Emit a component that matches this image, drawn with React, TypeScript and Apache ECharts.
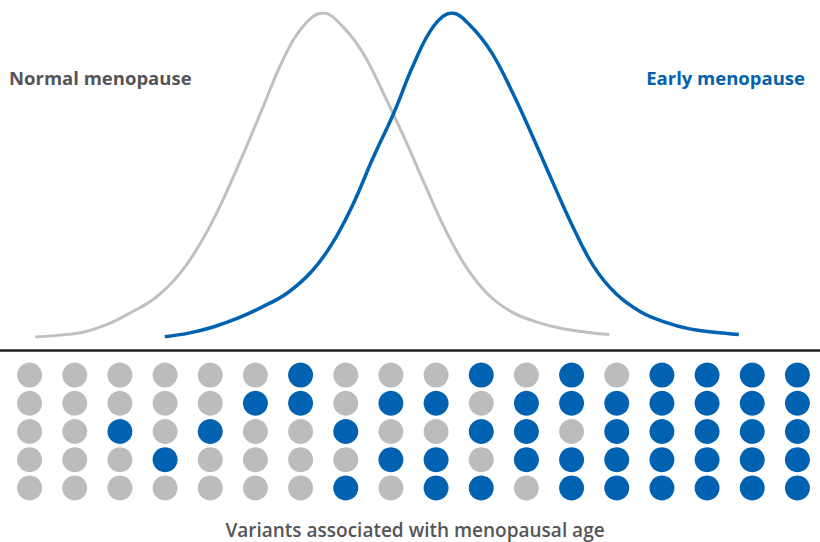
import React, { useEffect, useRef } from "react";
import * as echarts from "echarts";

// Curve values: x = score (0-100 across the chart width), y = relative density (peak = 100)
const normalX = [4.3, 7, 10, 13, 16, 19, 22, 24.6, 27, 29.5, 32, 34.5, 37, 39.4, 41.8, 44.3, 46.8, 49.3, 51.8, 54.3, 56.8, 59.5, 62.5, 65.5, 68.5, 71.5, 74.3];
const normalY = [0, 0.5, 1.4, 3.8, 7.6, 12.2, 19.8, 29.6, 41.3, 55.5, 70.5, 85.5, 96.0, 100, 95.8, 87.5, 75.0, 61.5, 47.1, 33.2, 21.8, 13.2, 7.6, 4.6, 2.6, 1.5, 0.8];

const earlyX = [20.1, 23, 26, 29, 32, 35, 38, 40.5, 43, 45.5, 48, 50.5, 52.9, 55.1, 57.4, 59.9, 62.4, 64.9, 67.4, 69.9, 72.4, 75.1, 78.1, 81.1, 84.1, 87.1, 90.1];
const earlyY = [0.1, 1.2, 3.1, 5.8, 9.3, 13.5, 20.2, 28.8, 40.7, 55.3, 69.0, 84.5, 96.0, 100, 96.0, 88.0, 76.0, 62.2, 47.8, 33.8, 21.8, 13.4, 7.8, 4.6, 2.5, 1.5, 0.8];

// Dot matrix: one string per column, rows top -> bottom, 1 = early-menopause variant
const variantColumns = [
  "00000", "00000", "00100", "00010", "00100", "01000", "11000", "00101", "01010",
  "01011", "10101", "01110", "11011", "01111", "11111", "11111", "11111", "11111",
];
const columnLabels = variantColumns.map((_, i) => `V${i + 1}`);
const rowLabels = ["R1", "R2", "R3", "R4", "R5"];

const labelNormal = "Normal menopause";
const labelEarly = "Early menopause";
const labelBottom = "Variants associated with menopausal age";

const BLUE = "#0062b1";
const GREY_LINE = "#c0c0c2";
const GREY_DOT = "#bbbcbe";
const FONT = "'Open Sans', 'Noto Sans', sans-serif";

export default function App() {
  const ref = useRef<HTMLDivElement>(null);

  useEffect(() => {
    if (!ref.current) return;
    const chart = echarts.init(ref.current, null, { renderer: "svg" });

    const greyDots: any[] = [];
    const blueDots: any[] = [];
    variantColumns.forEach((col, ci) => {
      col.split("").forEach((v, ri) => {
        const item = [columnLabels[ci], rowLabels[ri]];
        if (v === "1") blueDots.push(item);
        else greyDots.push(item);
      });
    });

    chart.setOption({
      animation: false,
      backgroundColor: "#ffffff",
      grid: [
        { left: 0, right: 0, top: 13, bottom: 205 },
        { left: 7, width: 814, top: 361, height: 141 },
      ],
      xAxis: [
        { type: "value", gridIndex: 0, min: 0, max: 100, show: false },
        { type: "category", gridIndex: 1, data: columnLabels, show: false, boundaryGap: true },
      ],
      yAxis: [
        { type: "value", gridIndex: 0, min: 0, max: 100, show: false },
        { type: "category", gridIndex: 1, data: rowLabels, inverse: true, show: false, boundaryGap: true },
      ],
      series: [
        {
          type: "line",
          xAxisIndex: 0,
          yAxisIndex: 0,
          data: normalX.map((x, i) => [x, normalY[i]]),
          smooth: 0.4,
          symbol: "none",
          lineStyle: { color: GREY_LINE, width: 3 },
        },
        {
          type: "line",
          xAxisIndex: 0,
          yAxisIndex: 0,
          data: earlyX.map((x, i) => [x, earlyY[i]]),
          smooth: 0.4,
          symbol: "none",
          lineStyle: { color: BLUE, width: 3.5 },
        },
        {
          type: "scatter",
          xAxisIndex: 1,
          yAxisIndex: 1,
          data: greyDots,
          symbol: "circle",
          symbolSize: 25,
          itemStyle: { color: GREY_DOT, opacity: 1 },
        },
        {
          type: "scatter",
          xAxisIndex: 1,
          yAxisIndex: 1,
          data: blueDots,
          symbol: "circle",
          symbolSize: 25,
          itemStyle: { color: BLUE, opacity: 1 },
        },
      ],
      graphic: [
        {
          type: "line",
          shape: { x1: 0, y1: 350.5, x2: 820, y2: 350.5 },
          style: { stroke: "#231f20", lineWidth: 2.5 },
        },
        {
          type: "text",
          x: 9,
          y: 77,
          style: {
            text: labelNormal,
            fill: "#555558",
            font: `700 18.5px ${FONT}`,
            textAlign: "left",
            textVerticalAlign: "middle",
          },
        },
        {
          type: "text",
          x: 805,
          y: 77,
          style: {
            text: labelEarly,
            fill: BLUE,
            font: `700 18.5px ${FONT}`,
            textAlign: "right",
            textVerticalAlign: "middle",
          },
        },
        {
          type: "text",
          x: 415,
          y: 530,
          style: {
            text: labelBottom,
            fill: "#555558",
            font: `600 19px ${FONT}`,
            textAlign: "center",
            textVerticalAlign: "middle",
          },
        },
      ],
    });

    return () => chart.dispose();
  }, []);

  return (
    <div style={{ position: "fixed", left: 0, top: 0, width: 820, height: 542 }}>
      <div ref={ref} style={{ width: 820, height: 542 }} />
    </div>
  );
}
